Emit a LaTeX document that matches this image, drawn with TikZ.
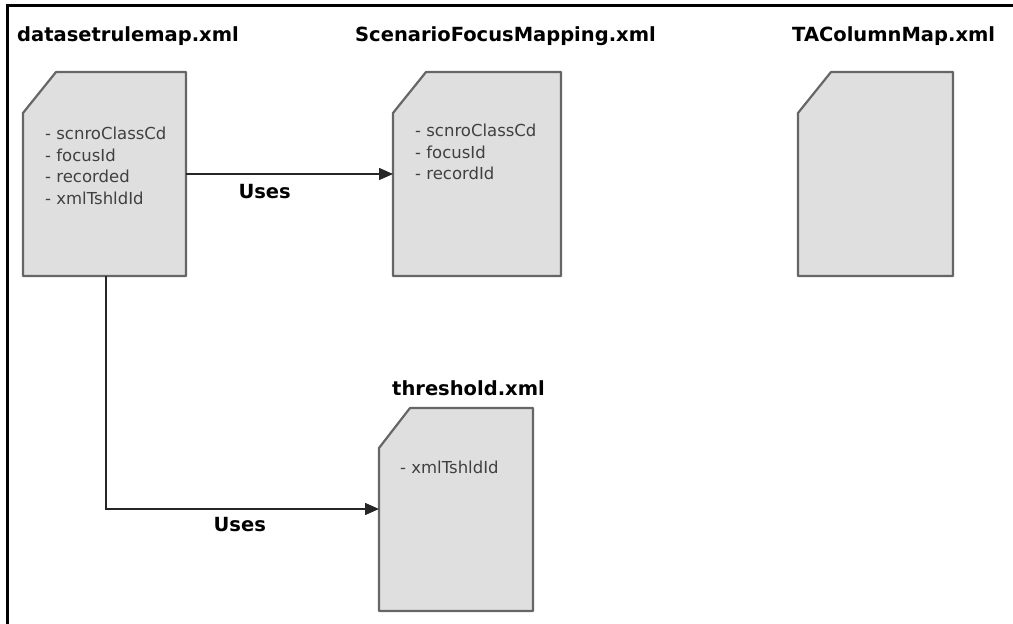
\documentclass[tikz,border=0pt]{standalone}
\usepackage{fontspec}
\setmainfont{DejaVu Sans}
\usetikzlibrary{arrows.meta}

\begin{document}
\begin{tikzpicture}[x=1pt,y=-1pt,
    xmlfile/.style={draw=gray!80!black,line width=2.2pt,fill=gray!25,line join=round},
    filename/.style={anchor=west,inner sep=0pt,font=\fontsize{19.5}{20}\selectfont\bfseries},
    fieldlist/.style={anchor=north west,inner sep=0pt,align=left,text=black!75,font=\fontsize{16.5}{21.5}\selectfont},
    uses/.style={draw=black!85,line width=1.5pt,-{Triangle[length=14pt,width=12pt]}},
    useslabel/.style={inner sep=0pt,font=\fontsize{19.5}{20}\selectfont\bfseries}]
            \useasboundingbox (0,0) rectangle (1013,624);
            \coordinate (frameA) at (7,624);
            \coordinate (frameB) at (7,5);
            \coordinate (frameC) at (1013,5);
            \draw[line width=3pt] (frameA)--(frameB)--(frameC);
            % datasetrulemap.xml
            \coordinate (A1) at (23,113);
            \coordinate (B1) at (56,72);
            \coordinate (C1) at (186,72);
            \coordinate (D1) at (186,276);
            \coordinate (E1) at (23,276);
            \draw[xmlfile] (A1)--(B1)--(C1)--(D1)--(E1)--cycle;
            \node[filename] (rulemap) at (17,36) {datasetrulemap.xml};
            \node[fieldlist] (rulemapfields) at (45,127) {- scnroClassCd\\- focusId\\- recorded\\- xmlTshldId};
            % ScenarioFocusMapping.xml
            \coordinate (A2) at (393,113);
            \coordinate (B2) at (426,72);
            \coordinate (C2) at (561,72);
            \coordinate (D2) at (561,276);
            \coordinate (E2) at (393,276);
            \draw[xmlfile] (A2)--(B2)--(C2)--(D2)--(E2)--cycle;
            \node[filename] (focusmap) at (355,36) {ScenarioFocusMapping.xml};
            \node[fieldlist] (focusmapfields) at (415,124) {- scnroClassCd\\- focusId\\- recordId};
            % TAColumnMap.xml
            \coordinate (A3) at (798,113);
            \coordinate (B3) at (831,72);
            \coordinate (C3) at (953,72);
            \coordinate (D3) at (953,276);
            \coordinate (E3) at (798,276);
            \draw[xmlfile] (A3)--(B3)--(C3)--(D3)--(E3)--cycle;
            \node[filename] (columnmap) at (792,36) {TAColumnMap.xml};
            % threshold.xml
            \coordinate (A4) at (379,448);
            \coordinate (B4) at (410,408);
            \coordinate (C4) at (533,408);
            \coordinate (D4) at (533,611);
            \coordinate (E4) at (379,611);
            \draw[xmlfile] (A4)--(B4)--(C4)--(D4)--(E4)--cycle;
            \node[filename] (threshold) at (392,388) {threshold.xml};
            \node[fieldlist] (thresholdfields) at (400,461) {- xmlTshldId};
            % uses
            \coordinate (P1) at (186,174);
            \coordinate (Q1) at (393,174);
            \draw[uses] (P1)--node[useslabel,pos=0.38,yshift=-18pt] (uses1) {Uses}(Q1);
            \coordinate (P2) at (106,276);
            \coordinate (Q2) at (379,509);
            \draw[uses] (P2)|-node[useslabel,pos=0.745,yshift=-16pt] (uses2) {Uses}(Q2);
        \end{tikzpicture}
\end{document}
